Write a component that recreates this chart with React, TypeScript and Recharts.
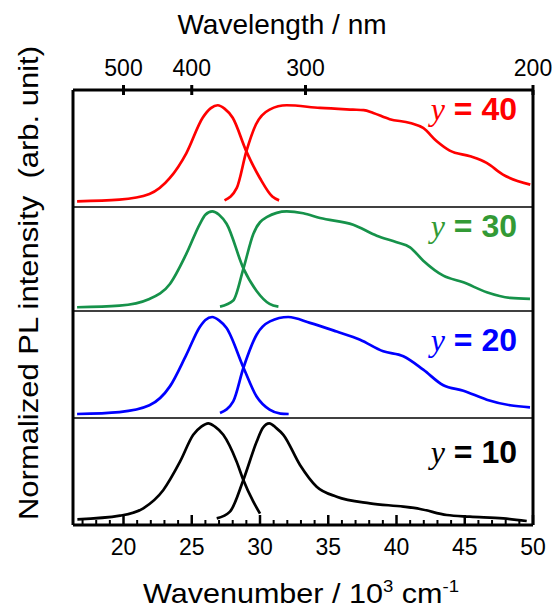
import { LineChart, Line, XAxis, YAxis } from 'recharts';

type Pt = [number, number];

// [wavenumber (10^3 cm^-1), normalized intensity]
const pl40: Pt[] = [[16.6, 0], [19.7, 0.017], [21.9, 0.076], [23.4, 0.243], [24.6, 0.5], [25.8, 0.87], [26.4, 0.97], [26.9, 1.0], [27.4, 0.965], [28.0, 0.87], [29.0, 0.52], [30.0, 0.24], [30.9, 0.05], [31.4, 0.01]];
const ex40: Pt[] = [[27.4, 0.01], [28.3, 0.14], [29.0, 0.52], [29.7, 0.8], [30.7, 0.955], [31.95, 1.0], [34.4, 0.972], [36.8, 0.955], [37.6, 0.95], [38.3, 0.92], [39.5, 0.855], [41.0, 0.816], [41.95, 0.764], [42.95, 0.625], [43.9, 0.528], [45.4, 0.469], [46.6, 0.4], [47.8, 0.278], [49.8, 0.174]];

const pl30: Pt[] = [[16.6, 0], [19.7, 0.017], [21.9, 0.087], [23.4, 0.243], [24.6, 0.556], [25.6, 0.87], [26.0, 0.965], [26.5, 1.0], [27.0, 0.965], [27.55, 0.87], [28.8, 0.4], [29.75, 0.17], [30.7, 0.035], [31.35, 0.007]];
const ex30: Pt[] = [[27.07, 0.007], [28.04, 0.07], [28.78, 0.4], [29.51, 0.764], [30.49, 0.94], [31.96, 1.0], [33.17, 0.98], [34.4, 0.93], [36.83, 0.86], [38.55, 0.746], [40.01, 0.677], [40.99, 0.625], [41.96, 0.486], [43.43, 0.33], [44.9, 0.26], [46.61, 0.156], [48.32, 0.097], [49.78, 0.087]];

const pl20: Pt[] = [[16.6, 0], [19.7, 0.02], [21.9, 0.09], [23.4, 0.285], [24.6, 0.61], [25.6, 0.9], [26.0, 0.97], [26.5, 1.0], [27.0, 0.965], [27.55, 0.886], [28.8, 0.474], [29.75, 0.18], [30.7, 0.045], [31.5, 0.005], [32.1, 0]];
const ex20: Pt[] = [[27.07, 0.01], [28.04, 0.13], [28.78, 0.474], [29.76, 0.82], [30.73, 0.955], [32.07, 1.0], [33.66, 0.94], [35.62, 0.85], [37.33, 0.766], [39.03, 0.646], [40.5, 0.595], [41.96, 0.457], [43.43, 0.296], [44.9, 0.24], [46.61, 0.148], [48.32, 0.09], [49.78, 0.069]];

const pl10: Pt[] = [[16.62, 0], [19.74, 0.038], [21.45, 0.115], [22.92, 0.306], [24.14, 0.6], [25.11, 0.88], [25.7, 0.965], [26.21, 1.0], [26.7, 0.965], [27.31, 0.88], [28.29, 0.6], [28.78, 0.41], [29.51, 0.184], [30.0, 0.06]];
const ex10: Pt[] = [[26.83, 0.01], [27.8, 0.08], [28.78, 0.41], [29.76, 0.81], [30.2, 0.95], [30.68, 1.0], [31.2, 0.95], [31.71, 0.88], [32.93, 0.566], [34.15, 0.34], [35.62, 0.236], [38.06, 0.167], [40.5, 0.132], [41.72, 0.108], [43.68, 0.045], [45.38, 0.028], [47.82, 0.01], [49.54, -0.017]];

const wavelengthTicks = [500, 400, 300, 200];
const wavenumberLabels = [20, 25, 30, 35, 40, 45, 50];
const wavenumberTicks = [17, 18, 19, 20, 21, 22, 23, 24, 25, 26, 27, 28, 29, 30, 31, 32, 33, 34, 35, 36, 37, 38, 39, 40, 41, 42, 43, 44, 45, 46, 47, 48, 49, 50];

const panels = [
  { y: '40', color: '#ff0000', text: '#ff0000', pl: pl40, ex: ex40, top: 90, bottom: 207, domain: [-0.059, 1.159], labelY: 120 },
  { y: '30', color: '#16924a', text: '#339a35', pl: pl30, ex: ex30, top: 207, bottom: 311, domain: [-0.039, 1.045], labelY: 237 },
  { y: '20', color: '#0000ff', text: '#0000ff', pl: pl20, ex: ex20, top: 311, bottom: 418, domain: [-0.041, 1.062], labelY: 351 },
  { y: '10', color: '#000000', text: '#000000', pl: pl10, ex: ex10, top: 418, bottom: 525, domain: [-0.059, 1.055], labelY: 463 },
];

const FONT = 'Arial, "Liberation Sans", Helvetica, sans-serif';
const toRows = (pts: Pt[]) => pts.map(([x, v]) => ({ x, v }));

const TopTick = (props: any) => {
  const { x, y, payload } = props;
  return (
    <g>
      <line x1={x} x2={x} y1={y - 5} y2={y + 5} stroke="#000" strokeWidth={3} />
      <text x={x} y={y - 14} textAnchor="middle" fontSize={23} fontFamily={FONT} fill="#000">
        {Math.round(10000 / payload.value)}
      </text>
    </g>
  );
};

const BottomTick = (props: any) => {
  const { x, y, payload } = props;
  const major = wavenumberLabels.includes(payload.value);
  return (
    <g>
      <line x1={x} x2={x} y1={y} y2={y - (major ? 10 : 5)} stroke="#000" strokeWidth={major ? 2.5 : 2} />
      {major && (
        <text x={x} y={y + 30} textAnchor="middle" fontSize={23} fontFamily={FONT} fill="#000">
          {payload.value}
        </text>
      )}
    </g>
  );
};

function Panel({ idx }: { idx: number }) {
  const p = panels[idx];
  const first = idx === 0;
  const last = idx === panels.length - 1;
  const svgTop = first ? 0 : p.top - 3;
  const svgBottom = last ? 610 : p.bottom + 3;
  return (
    <div style={{ position: 'absolute', left: 0, top: svgTop }}>
      <LineChart
        width={556}
        height={svgBottom - svgTop}
        margin={{ top: p.top - svgTop - (first ? 1 : 0), bottom: svgBottom - p.bottom - 1, left: 72, right: 22 }}
      >
        <XAxis
          xAxisId="x"
          type="number"
          dataKey="x"
          domain={[16.3, 50]}
          allowDataOverflow
          height={1}
          axisLine={{ stroke: '#000', strokeWidth: last ? 3 : 1.5 }}
          tickLine={false}
          ticks={last ? wavenumberTicks : wavenumberLabels}
          interval={0}
          tickSize={0}
          tickMargin={0}
          tick={last ? <BottomTick /> : false}
        />
        {first && (
          <XAxis
            xAxisId="top"
            orientation="top"
            type="number"
            dataKey="x"
            domain={[16.3, 50]}
            allowDataOverflow
            height={1}
            axisLine={{ stroke: '#000', strokeWidth: 3 }}
            tickLine={false}
            ticks={wavelengthTicks.map((l) => 10000 / l)}
            interval={0}
            tickSize={0}
            tickMargin={0}
            tick={<TopTick />}
          />
        )}
        <YAxis yAxisId="l" type="number" domain={p.domain} allowDataOverflow width={1} ticks={[0, 1]} tick={false} tickLine={false} axisLine={{ stroke: '#000', strokeWidth: 3 }} />
        <YAxis yAxisId="r" orientation="right" type="number" domain={p.domain} allowDataOverflow width={1} ticks={[0, 1]} tick={false} tickLine={false} axisLine={{ stroke: '#000', strokeWidth: 3 }} />
        <Line xAxisId="x" yAxisId="l" data={toRows(p.pl)} dataKey="v" type="monotone" stroke={p.color} strokeWidth={2.7} dot={false} isAnimationActive={false} />
        <Line xAxisId="x" yAxisId="l" data={toRows(p.ex)} dataKey="v" type="monotone" stroke={p.color} strokeWidth={2.7} dot={false} isAnimationActive={false} />
      </LineChart>
    </div>
  );
}

export default function App() {
  return (
    <div style={{ position: 'absolute', left: 0, top: 0, width: 556, height: 610, background: '#fff', overflow: 'hidden' }}>
      {panels.map((_, i) => (
        <Panel key={i} idx={i} />
      ))}
      <svg width={556} height={610} style={{ position: 'absolute', left: 0, top: 0, pointerEvents: 'none' }}>
        <text x={282} y={34} textAnchor="middle" fontSize={28} fontFamily={FONT} fill="#000">
          Wavelength / nm
        </text>
        <text x={301} y={603} textAnchor="middle" fontSize={28} fontFamily={FONT} fill="#000" textLength={316} lengthAdjust="spacingAndGlyphs">
          Wavenumber / 10<tspan dy={-11} fontSize={17}>3</tspan>
          <tspan dy={11}> cm</tspan>
          <tspan dy={-11} fontSize={17}>-1</tspan>
        </text>
        <text x={38} y={283} transform="rotate(-90 38 283)" textAnchor="middle" fontSize={27} fontFamily={FONT} fill="#000" textLength={474} lengthAdjust="spacingAndGlyphs" style={{ whiteSpace: 'pre' }}>
          {'Normalized PL intensity  (arb. unit)'}
        </text>
        {panels.map((p) => (
          <text key={p.y} x={517} y={p.labelY} textAnchor="end" fontSize={32} fill={p.text} fontFamily={FONT} fontWeight="bold">
            <tspan fontFamily='"Times New Roman", "Liberation Serif", serif' fontStyle="italic" fontWeight="normal">y</tspan>
            <tspan> = {p.y}</tspan>
          </text>
        ))}
      </svg>
    </div>
  );
}
